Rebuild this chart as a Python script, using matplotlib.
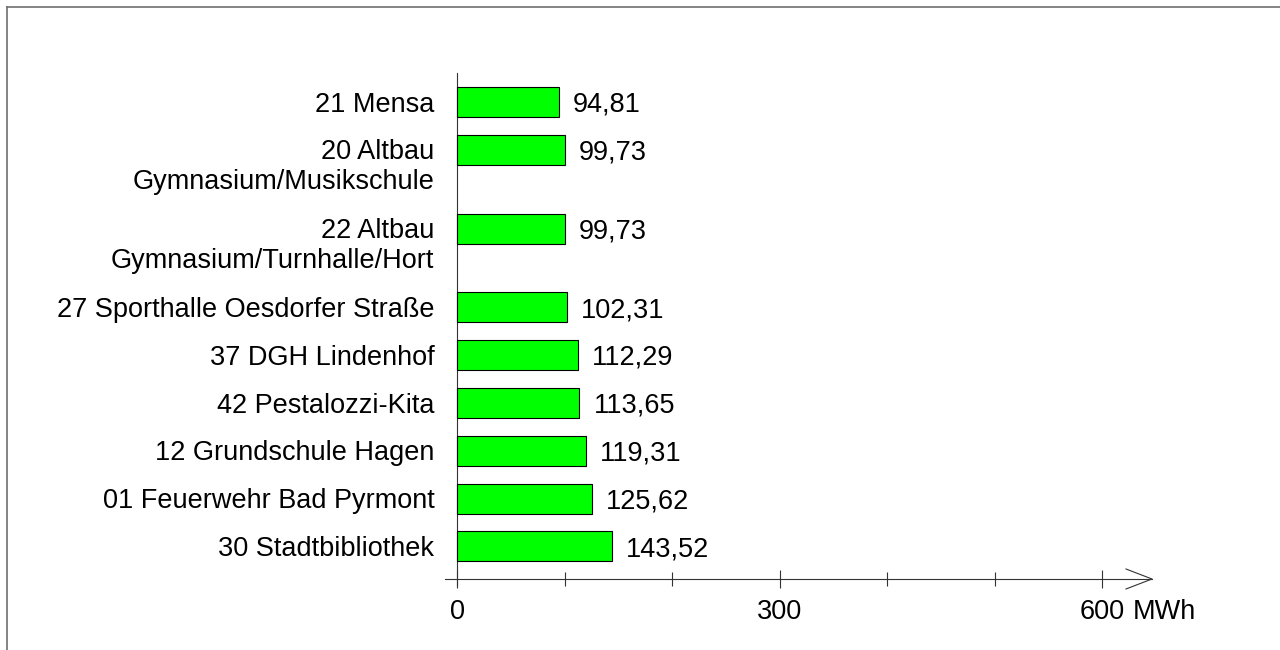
import numpy as np
import matplotlib.pyplot as plt
from matplotlib.lines import Line2D

FS = 19.5
plt.rcParams.update(
    {
        "font.family": ["Liberation Sans", "DejaVu Sans"],
        "font.size": FS,
    }
)

# Gebäude (von oben nach unten) und Verbrauch in MWh
gebaeude = [
    "21 Mensa",
    "20 Altbau\nGymnasium/Musikschule",
    "22 Altbau\nGymnasium/Turnhalle/Hort",
    "27 Sporthalle Oesdorfer Straße",
    "37 DGH Lindenhof",
    "42 Pestalozzi-Kita",
    "12 Grundschule Hagen",
    "01 Feuerwehr Bad Pyrmont",
    "30 Stadtbibliothek",
]
verbrauch = [94.81, 99.73, 99.73, 102.31, 112.29, 113.65, 119.31, 125.62, 143.52]
wert_labels = ["94,81", "99,73", "99,73", "102,31", "112,29", "113,65", "119,31", "125,62", "143,52"]
major_ticks = [0, 300, 600]
minor_ticks = [100, 200, 400, 500]
einheit = "MWh"

# Layout in Pixeln (Figur 1280x650)
W, H = 1280, 650
row_px = 47.8          # Abstand einzeiliger Zeilen
line_px = 31.0         # Zusatz pro weiterer Textzeile
x0_px = 457.3          # Position der 0
px_per_unit = 1.075
ax_left_px, ax_right_px = 445, 1152
ax_top_px, ax_bot_px = 73, 585
first_center_px = 102
xaxis_px = 579
em_px = FS * 100 / 72
cap_px = 0.716 * em_px
tick_pad = 7.5

# y-Positionen abhängig von der Zeilenzahl der Beschriftung
pos = []
p = 0.0
for i, name in enumerate(gebaeude):
    if i > 0:
        prev_lines = gebaeude[i - 1].count("\n")
        p += 1 + prev_lines * line_px / row_px
    pos.append(p)
pos = np.array(pos)

fig = plt.figure(figsize=(W / 100, H / 100), dpi=100)
ax = fig.add_axes(
    [
        ax_left_px / W,
        (H - ax_bot_px) / H,
        (ax_right_px - ax_left_px) / W,
        (ax_bot_px - ax_top_px) / H,
    ]
)
xmin = (ax_left_px - x0_px) / px_per_unit
xmax = (ax_right_px - x0_px) / px_per_unit
ymin = (ax_top_px - first_center_px) / row_px
ymax = (ax_bot_px - first_center_px) / row_px
y_xaxis = (xaxis_px - first_center_px) / row_px
ax.set_xlim(xmin, xmax)
ax.set_ylim(ymax, ymin)

ax.barh(
    pos,
    verbrauch,
    height=30 / row_px,
    color="#00FF00",
    edgecolor="black",
    linewidth=0.8,
    zorder=3,
)

# Beschriftungen
base_off = (cap_px / 2) / row_px
for y, name, v, lab in zip(pos, gebaeude, verbrauch, wert_labels):
    for k, line in enumerate(name.split("\n")):
        ax.text(
            -23 / px_per_unit,
            y + k * 30 / row_px + base_off,
            line,
            ha="right",
            va="baseline",
            clip_on=False,
        )
    ax.text(v + 14 / px_per_unit, y + base_off, lab, ha="left", va="baseline", clip_on=False)

# Achsen
for s in ["top", "right"]:
    ax.spines[s].set_visible(False)
ax.spines["left"].set_position(("data", 0))
ax.spines["bottom"].set_position(("data", y_xaxis))
for s in ["left", "bottom"]:
    ax.spines[s].set_color("#333333")
    ax.spines[s].set_linewidth(0.8)
ax.set_yticks([])
ax.set_xticks(major_ticks)
ax.set_xticklabels([str(t) for t in major_ticks])
ax.set_xticks(minor_ticks, minor=True)
ax.tick_params(axis="x", which="major", direction="inout", length=13.5, width=0.8,
               color="#333333", pad=tick_pad)
ax.tick_params(axis="x", which="minor", direction="inout", length=9.4, width=0.8,
               color="#333333")
ax.annotate(
    einheit,
    xy=(major_ticks[-1], y_xaxis),
    xytext=(1.5 * 0.556 * FS + 0.278 * FS, -(13.5 / 2 + tick_pad)),
    textcoords="offset points",
    ha="left",
    va="top",
    annotation_clip=False,
)

# Pfeilspitze
dx = 26 / px_per_unit
dy = 10 / row_px
ax.plot([xmax - dx, xmax, xmax - dx], [y_xaxis - dy, y_xaxis, y_xaxis + dy],
        color="#333333", lw=0.8, clip_on=False)

# Rahmen
fig.add_artist(Line2D([7 / W, 1], [1 - 7 / H, 1 - 7 / H], color="#707070", lw=1.2))
fig.add_artist(Line2D([7 / W, 7 / W], [0, 1 - 7 / H], color="#707070", lw=1.2))

fig.savefig("out.png", dpi=100)
